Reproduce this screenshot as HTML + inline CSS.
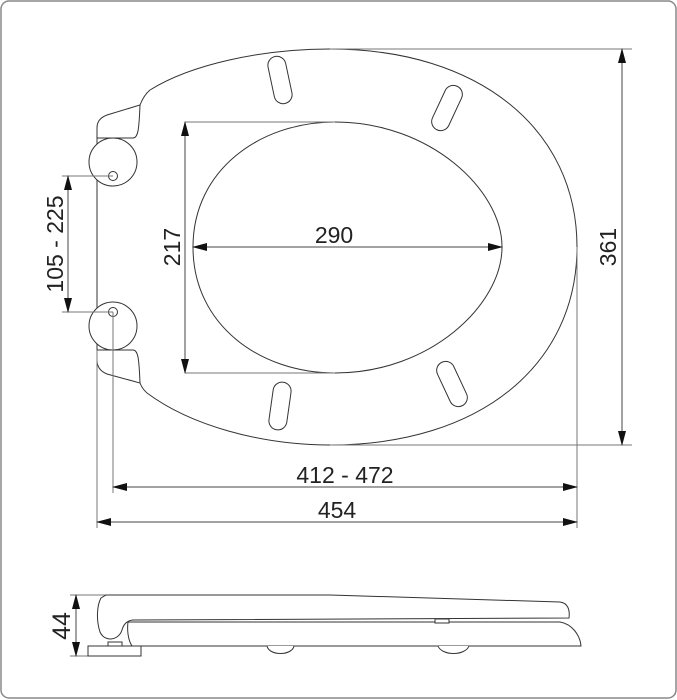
<!DOCTYPE html>
<html><head><meta charset="utf-8"><style>
html,body{margin:0;padding:0;background:#fff}
svg{display:block}
text{font-family:"Liberation Sans",sans-serif;font-size:23px;fill:#222}
</style></head><body>
<svg width="677" height="700" viewBox="0 0 677 700" xmlns="http://www.w3.org/2000/svg">
<defs>
<marker id="a" markerWidth="15" markerHeight="8" refX="14" refY="4" orient="auto" markerUnits="userSpaceOnUse"><path d="M0,0 L15,4 L0,8 Z" fill="#111"/></marker>
<marker id="b" markerWidth="15" markerHeight="8" refX="1" refY="4" orient="auto" markerUnits="userSpaceOnUse"><path d="M15,0 L0,4 L15,8 Z" fill="#111"/></marker>
</defs>
<rect x="1" y="1" width="675" height="697" rx="8" fill="#fff" stroke="#888" stroke-width="1.5"/>
<g fill="none" stroke="#333" stroke-width="1">
<path d="M150,90 C190,65 260,49 330,49 C480,49 577,130 577,247 C577,365 480,445 330,445 C260,445 190,425 147,393"/>
<path d="M97,138 L97,128 C97,120 102,117 107,115 L140,105 C142,100 145,94 150,90"/>
<path d="M97,138 L133,138 C138,138 139,130 140,105"/>
<path d="M97,350 L97,360 C97,368 102,372 107,374 L140,383 C142,388 144,390 147,393"/>
<path d="M97,350 L133,350 C138,350 139,358 140,383"/>
<line x1="97" y1="138" x2="97" y2="350"/>
<circle cx="113" cy="162" r="24" fill="#fff"/>
<circle cx="113" cy="176" r="4.5"/>
<circle cx="113" cy="326" r="24" fill="#fff"/>
<circle cx="113" cy="312" r="4.5"/>
<path d="M193,247 C193,170 260,122 335,122 C430,122 502,190 502,247 C502,305 430,373 335,373 C260,373 193,325 193,247Z"/>
<rect x="-9" y="-24" width="18" height="48" rx="9" transform="translate(280,80) rotate(-12)"/>
<rect x="-9" y="-24" width="18" height="48" rx="9" transform="translate(447,108) rotate(25)"/>
<rect x="-9" y="-24" width="18" height="48" rx="9" transform="translate(280,406) rotate(8)"/>
<rect x="-9" y="-24" width="18" height="48" rx="9" transform="translate(452,384) rotate(-25)"/>
</g>
<g fill="none" stroke="#777" stroke-width="1">
<line x1="185" y1="122" x2="335" y2="122"/>
<line x1="185" y1="373" x2="335" y2="373"/>
<line x1="330" y1="49" x2="632" y2="49"/>
<line x1="330" y1="445" x2="632" y2="445"/>
<line x1="62" y1="176" x2="113" y2="176"/>
<line x1="62" y1="312" x2="113" y2="312"/>
<line x1="97" y1="350" x2="97" y2="528"/>
<line x1="113" y1="312" x2="113" y2="493"/>
<line x1="577" y1="247" x2="577" y2="528"/>
<line x1="70" y1="595" x2="160" y2="595"/>
<line x1="70" y1="656" x2="90" y2="656"/>
</g>
<g stroke="#444" stroke-width="1" fill="none">
<line x1="185" y1="122" x2="185" y2="373" marker-start="url(#b)" marker-end="url(#a)"/>
<line x1="193" y1="247" x2="502" y2="247" marker-start="url(#b)" marker-end="url(#a)"/>
<line x1="622" y1="49" x2="622" y2="445" marker-start="url(#b)" marker-end="url(#a)"/>
<line x1="68" y1="176" x2="68" y2="312" marker-start="url(#b)" marker-end="url(#a)"/>
<line x1="113" y1="487" x2="577" y2="487" marker-start="url(#b)" marker-end="url(#a)"/>
<line x1="97" y1="522" x2="577" y2="522" marker-start="url(#b)" marker-end="url(#a)"/>
<line x1="76" y1="595" x2="76" y2="656" marker-start="url(#b)" marker-end="url(#a)"/>
</g>
<text x="334" y="243" text-anchor="middle">290</text>
<text x="345" y="483" text-anchor="middle">412 - 472</text>
<text x="337" y="518" text-anchor="middle">454</text>
<text transform="translate(180,247) rotate(-90)" text-anchor="middle">217</text>
<text transform="translate(616,247) rotate(-90)" text-anchor="middle">361</text>
<text transform="translate(63,244) rotate(-90)" text-anchor="middle">105 - 225</text>
<text transform="translate(70,626) rotate(-90)" text-anchor="middle" style="font-size:25px">44</text>
<g fill="#fff" stroke="#333" stroke-width="1">
<path d="M106,595 L330,595 L560,602 C568,603 570,610 569,618 L134,620 C126,620 123,626 122,630 C119,640 105,643 100,632 C96,620 97,605 101,598 Z"/>
<path d="M128,622 L560,622 C572,624 580,635 581,646 L132,646 C128,640 127,630 128,622Z"/>
<rect x="88" y="646" width="53" height="10"/>
<rect x="108" y="642" width="14" height="4"/>
<path d="M267,646 C269,656 292,656 294,646"/>
<path d="M438,646 C442,656 465,656 469,646"/>
<rect x="435" y="619" width="14" height="4"/>
</g>
</svg>
</body></html>
